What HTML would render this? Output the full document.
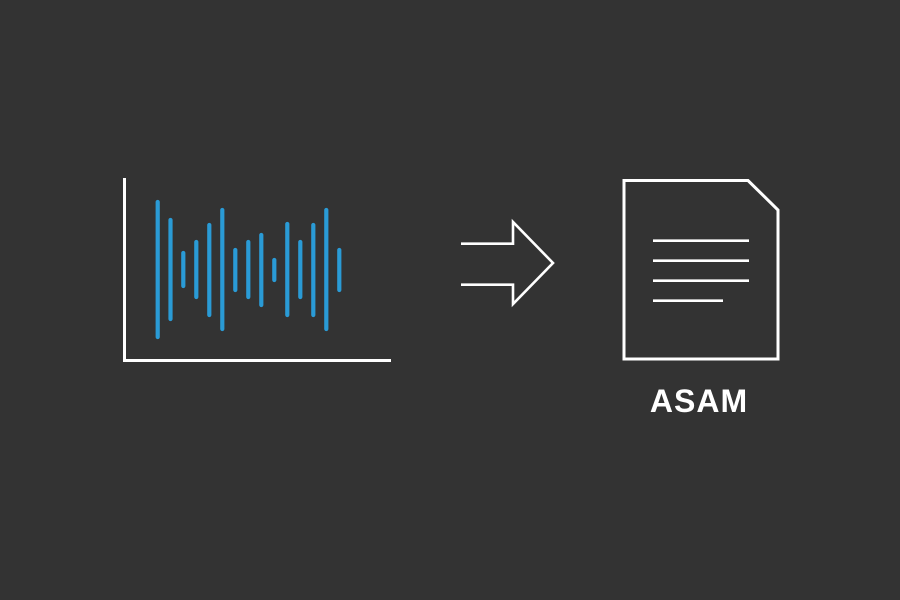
<!DOCTYPE html>
<html><head><meta charset="utf-8"><style>
html,body{margin:0;padding:0;background:#333333;}
svg{display:block}
</style></head><body>
<svg width="900" height="600" viewBox="0 0 900 600" xmlns="http://www.w3.org/2000/svg">
<rect width="900" height="600" fill="#333333"/>
<polyline points="124.5,178 124.5,360.5 391,360.5" fill="none" stroke="#fff" stroke-width="3"/>
<g stroke="#2a9bd6" stroke-width="4.2" stroke-linecap="round">
<line x1="157.7" y1="202" x2="157.7" y2="337"/>
<line x1="170.5" y1="220" x2="170.5" y2="319"/>
<line x1="183.3" y1="253" x2="183.3" y2="286"/>
<line x1="196.3" y1="242" x2="196.3" y2="297"/>
<line x1="209.3" y1="225" x2="209.3" y2="315"/>
<line x1="222.3" y1="210" x2="222.3" y2="329"/>
<line x1="235.3" y1="250" x2="235.3" y2="290"/>
<line x1="248.3" y1="242" x2="248.3" y2="297"/>
<line x1="261.3" y1="235" x2="261.3" y2="305"/>
<line x1="274.3" y1="260" x2="274.3" y2="280"/>
<line x1="287.3" y1="224" x2="287.3" y2="315"/>
<line x1="300.3" y1="242" x2="300.3" y2="297"/>
<line x1="313.3" y1="225" x2="313.3" y2="315"/>
<line x1="326.3" y1="210" x2="326.3" y2="329"/>
<line x1="339.3" y1="250" x2="339.3" y2="290"/>
</g>
<g fill="none" stroke="#fff" stroke-width="2.6">
<polyline points="461,243.7 513,243.7 513,222 553,263 513,304 513,284.7 461,284.7"/>
</g>
<polygon points="624,180.5 748,180.5 778,210 778,359 624,359" fill="none" stroke="#fff" stroke-width="3"/>
<g stroke="#fff" stroke-width="2.6">
<line x1="653" y1="240.7" x2="749" y2="240.7"/>
<line x1="653" y1="260.7" x2="749" y2="260.7"/>
<line x1="653" y1="280.7" x2="749" y2="280.7"/>
<line x1="653" y1="300.7" x2="723" y2="300.7"/>
</g>
<text x="699" y="412" text-anchor="middle" font-family="Liberation Sans, sans-serif" font-weight="bold" font-size="32" fill="#fff" letter-spacing="1">ASAM</text>
</svg>
</body></html>
